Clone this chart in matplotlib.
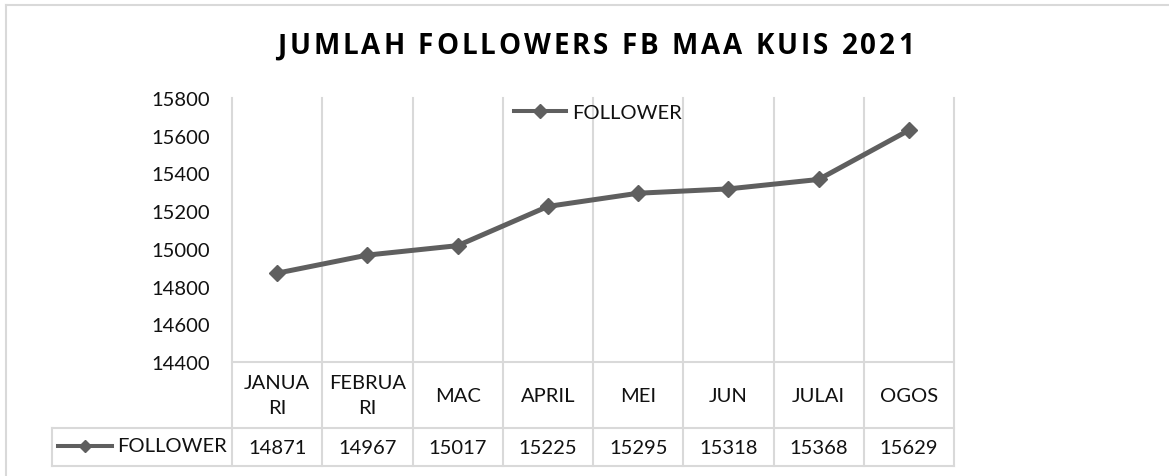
import matplotlib
matplotlib.use("Agg")
import matplotlib.pyplot as plt
from matplotlib.lines import Line2D

# data
months = ["JANUA\nRI", "FEBRUA\nRI", "MAC", "APRIL", "MEI", "JUN", "JULAI", "OGOS"]
followers = [14871, 14967, 15017, 15225, 15295, 15318, 15368, 15629]
series_name = "FOLLOWER"
title = "JUMLAH FOLLOWERS FB MAA KUIS 2021"
y_ticks = [14400, 14600, 14800, 15000, 15200, 15400, 15600, 15800]

W, H = 1169, 477
line_col = "#5f5f5f"
grid_col = "#d9d9d9"
fs = 14.5
plt.rcParams["font.family"] = ["Lato", "DejaVu Sans"]

fig = plt.figure(figsize=(W / 100, H / 100), dpi=100)


def fx(px):
    return px / W


def fy(py):
    return 1 - py / H


def hline(x0, x1, y, lw=1.5):
    fig.add_artist(Line2D([fx(x0), fx(x1)], [fy(y), fy(y)], color=grid_col, lw=lw, zorder=0))


def vline(x, y0, y1, lw=1.5):
    fig.add_artist(Line2D([fx(x), fx(x)], [fy(y0), fy(y1)], color=grid_col, lw=lw, zorder=0))


# outer chart border (cut off at right and bottom)
vline(6, 6, H + 5)
hline(6, W + 5, 6)

# plot area (pixels)
L, R, T, B = 232, 954, 99, 363
row1_bot, row2_bot, tab_left = 429, 467, 52
ax = fig.add_axes([fx(L), fy(B), fx(R) - fx(L), fy(T) - fy(B)])
ax.patch.set_alpha(0)
n = len(months)
xs = [i + 0.5 for i in range(n)]
ax.plot(xs, followers, color=line_col, lw=3.6, marker="D", ms=8.5,
        label=series_name, zorder=3)
ax.set_xlim(0, n)
ax.set_ylim(y_ticks[0], y_ticks[-1])
ax.set_yticks(y_ticks)
ax.tick_params(axis="y", length=0, pad=16, labelsize=fs, labelcolor="#111111")
ax.set_xticks([])
for s in ax.spines.values():
    s.set_visible(False)

# vertical grid lines running down through the data table
for i in range(n + 1):
    px = L + (R - L) * i / n
    vline(px, T, row2_bot)

# data table lines
hline(L, R, B)
hline(tab_left, R, row1_bot)
hline(tab_left, R, row2_bot)
vline(tab_left, row1_bot, row2_bot)

# table texts
xt = ax.get_xaxis_transform()
ph = B - T
y_row1 = -((row1_bot - B) / 2) / ph
y_row2 = -((row1_bot - B) + (row2_bot - row1_bot) / 2) / ph
for x, m, v in zip(xs, months, followers):
    ax.text(x, y_row1, m, transform=xt, ha="center", va="center",
            fontsize=fs, linespacing=1.6, clip_on=False, color="#111111")
    ax.text(x, y_row2, str(v), transform=xt, ha="center", va="center",
            fontsize=fs, clip_on=False, color="#111111")

# legend key inside table
ky = fy(447)
fig.add_artist(Line2D([fx(58), fx(85), fx(112)], [ky, ky, ky], color=line_col,
                      lw=2.9, marker="D", ms=6, markevery=[1]))
fig.text(fx(117), ky, series_name, ha="left", va="center", fontsize=fs, color="#111111")

# top legend
leg = ax.legend(loc="center", bbox_to_anchor=(fx(598), fy(113)),
                bbox_transform=fig.transFigure, frameon=False, fontsize=fs,
                handlelength=2.55, handletextpad=0.3, borderpad=0)
for h in leg.legend_handles:
    h.set_markersize(7)
    h.set_linewidth(2.9)
for t in leg.get_texts():
    t.set_color("#111111")

# title with letter spacing
renderer = fig.canvas.get_renderer()
tprops = dict(fontsize=20, fontweight="bold", color="black",
              family=["Open Sans", "DejaVu Sans"])


def text_w(s):
    t = fig.text(0, 0, s, **tprops)
    w = t.get_window_extent(renderer).width
    t.remove()
    return w


space_w = text_w("I I") - text_w("II")
widths = [space_w if c == " " else text_w(c) for c in title]
target = 914 - 277
gap = (target - sum(widths)) / (len(title) - 1)
x = 595.5 - target / 2
for c, w in zip(title, widths):
    if c != " ":
        fig.text(fx(x), fy(47), c, ha="left", va="center", **tprops)
    x += w + gap

fig.savefig("out.png", dpi=100)
